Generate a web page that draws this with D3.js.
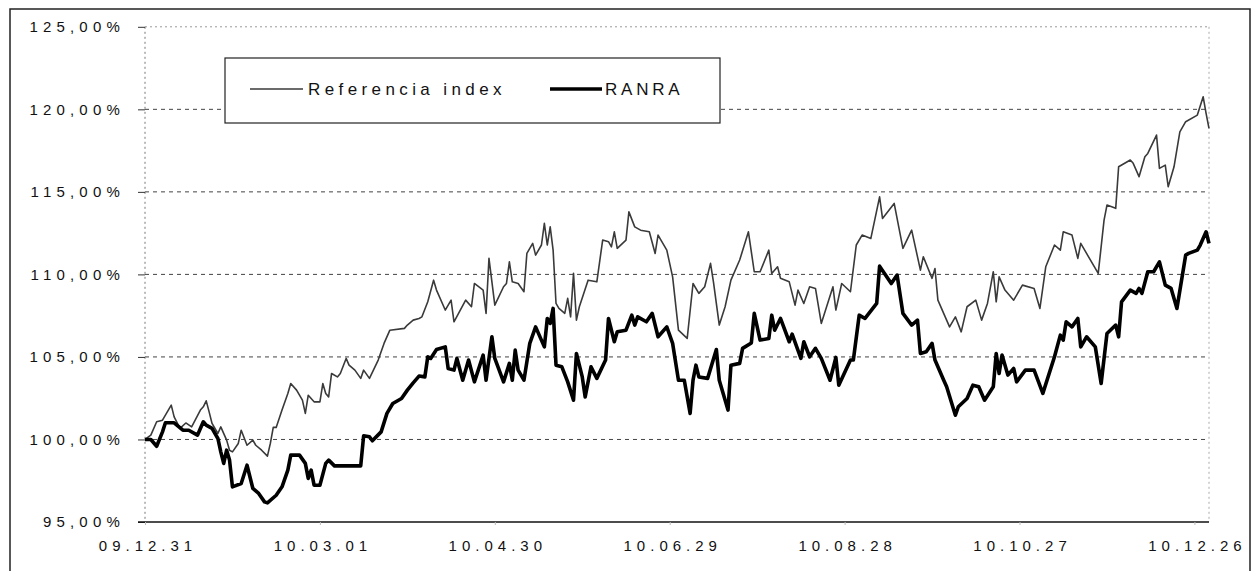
<!DOCTYPE html>
<html>
<head>
<meta charset="utf-8">
<script src="https://cdn.jsdelivr.net/npm/d3@7"></script>
<style>
  html, body { margin: 0; padding: 0; background: #fff; }
  svg { display: block; }
  text { font-family: "Liberation Sans", Arial, sans-serif; fill: #111; }
</style>
</head>
<body>
<svg id="chart" width="1253" height="571"></svg>
<script>
// ---- data (day offsets from 2009-12-31, values in %) ----
const startDate = "2009-12-31";
const endDate = "2010-12-31";
const seriesNames = ["Referencia index", "RANRA"];
const yTicks = [95, 100, 105, 110, 115, 120, 125];
const xTickOffsets = [0, 60, 120, 180, 240, 300, 360];

const refDays = [0,2,4,6,9,10,12,14,16,19,20,21,22,23,25,26,28,29,30,32,33,35,37,38,40,42,43,44,45,47,49,50,52,54,55,56,58,60,61,62,63,64,66,67,69,70,72,74,75,77,80,82,84,89,90,92,94,95,97,99,100,103,105,106,110,112,113,116,117,118,120,123,124,125,126,128,130,131,133,134,136,137,138,139,140,141,142,144,145,146,147,148,149,152,155,157,159,160,161,162,165,166,168,170,173,175,176,179,181,183,186,188,190,192,194,195,197,199,201,204,207,209,211,214,215,217,218,221,223,224,226,228,230,232,236,237,239,242,244,246,249,252,253,257,260,263,266,267,270,271,272,276,278,280,282,285,287,289,291,292,293,295,298,301,305,307,309,312,314,315,318,320,321,323,327,329,330,333,334,338,339,341,343,344,347,348,350,351,353,355,357,361,363,364,365];
const refValues = [100.0,100.26,101.07,101.17,102.08,101.37,100.67,101.0,100.76,101.78,101.98,102.34,101.67,100.97,100.36,100.76,99.96,99.35,99.25,99.76,100.56,99.65,99.96,99.65,99.35,98.99,99.76,100.73,100.73,101.78,102.79,103.39,102.99,102.38,101.58,102.68,102.28,102.28,103.39,102.79,102.58,104.0,103.79,104.0,104.91,104.5,104.2,103.7,104.2,103.7,104.81,105.82,106.62,106.73,106.93,107.23,107.33,107.43,108.34,109.65,109.05,107.84,108.44,107.13,108.44,108.04,109.45,109.05,107.64,110.97,108.14,109.25,109.45,110.76,109.55,109.45,108.95,111.27,111.88,111.17,111.78,113.09,111.78,112.88,111.47,108.24,107.94,107.64,108.55,107.43,110.06,107.23,108.04,109.65,109.55,112.08,111.98,111.67,112.58,111.58,112.08,113.79,112.88,112.68,112.58,111.27,112.38,111.47,109.85,106.62,106.12,109.45,108.85,109.25,110.67,109.55,106.93,108.04,109.65,110.87,112.58,110.16,110.16,111.47,110.06,110.46,109.76,109.55,108.14,109.05,108.24,109.25,109.15,107.03,109.25,107.84,109.45,108.95,111.78,112.38,112.18,114.7,113.39,114.3,111.58,112.68,110.26,111.07,109.76,110.36,108.44,106.82,107.43,106.52,108.04,108.44,107.23,108.24,110.16,108.34,109.85,109.05,108.44,109.35,109.15,107.94,110.46,111.78,111.47,112.58,112.38,110.97,111.88,111.27,110.06,113.29,114.2,114.0,116.52,116.93,116.73,115.92,117.13,117.33,118.44,116.42,116.62,115.31,116.52,118.64,119.25,119.65,120.76,119.76,118.85];

const ranraDays = [0,2,4,6,7,10,13,15,18,20,21,23,25,26,27,28,29,30,33,35,37,39,41,42,45,47,49,50,53,55,56,57,58,60,62,63,65,74,75,77,78,81,83,85,88,90,92,94,96,97,98,100,103,104,106,107,109,111,113,116,117,119,120,123,125,126,127,128,130,132,134,137,138,139,140,141,143,145,147,148,150,151,153,155,158,159,161,162,165,167,168,169,172,174,176,179,181,183,185,187,188,189,190,193,196,197,200,201,204,205,208,209,211,214,215,216,218,221,222,225,226,228,230,232,235,237,238,242,243,245,247,251,252,256,258,260,263,265,266,268,270,271,274,275,278,279,282,284,286,288,291,292,293,294,296,298,299,302,305,308,312,314,315,316,318,320,321,323,326,328,330,333,334,335,338,340,341,342,344,346,348,350,352,354,357,358,361,362,364,365];
const ranraValues = [100.0,100.0,99.59,100.46,101.01,101.01,100.56,100.56,100.26,101.07,100.87,100.67,100.06,99.25,98.55,99.35,98.75,97.13,97.33,98.44,97.03,96.73,96.22,96.16,96.62,97.13,98.14,99.05,99.05,98.55,97.64,98.14,97.23,97.23,98.55,98.75,98.4,98.4,100.22,100.16,99.92,100.46,101.58,102.18,102.48,102.99,103.43,103.84,103.79,105.01,104.91,105.45,105.61,104.3,104.2,104.91,103.59,104.81,103.49,105.11,103.59,106.22,104.91,103.49,104.61,103.59,105.41,104.2,103.59,105.82,106.82,105.61,107.33,107.03,107.94,104.5,104.4,103.49,102.38,105.21,103.79,102.58,104.4,103.7,104.81,107.33,105.92,106.52,106.62,107.53,106.93,107.43,107.13,107.64,106.22,106.82,105.82,103.59,103.59,101.58,103.59,104.5,103.79,103.7,105.45,103.59,101.78,104.5,104.61,105.52,105.85,107.64,106.02,106.12,107.53,106.62,107.33,105.92,106.38,104.91,105.92,105.01,105.52,104.91,103.59,104.97,103.29,104.81,104.81,107.53,107.33,108.24,110.5,109.45,109.96,107.64,106.93,107.23,105.21,105.31,105.82,104.81,103.59,103.19,101.47,101.98,102.48,103.29,103.19,102.38,103.19,105.21,104.0,105.11,103.9,104.3,103.49,104.2,104.2,102.79,105.01,106.32,106.02,107.13,106.82,107.33,105.61,106.22,105.61,103.39,106.42,106.93,106.22,108.34,109.05,108.85,109.15,108.85,110.16,110.16,110.76,109.35,109.15,107.94,111.17,111.27,111.47,111.78,112.58,111.88];

// ---- chart ----
const svg = d3.select("#chart");
const parse = d3.timeParse("%Y-%m-%d");
const t0 = parse(startDate), t1 = parse(endDate);
const dayToDate = d => d3.timeDay.offset(t0, d);

const pLeft = 145, pRight = 1209, pTop = 26.8, pBottom = 522;
const x = d3.scaleTime().domain([t0, t1]).range([pLeft, pRight]);
const y = d3.scaleLinear().domain([95, 125]).range([pBottom, pTop]);

// outer frame
svg.append("rect").attr("x", 10).attr("y", 9).attr("width", 1240).attr("height", 570)
  .attr("fill", "none").attr("stroke", "#222").attr("stroke-width", 1.5);

// gridlines
svg.append("g").selectAll("line").data(yTicks.filter(v => v > 95)).join("line")
  .attr("x1", pLeft).attr("x2", pRight)
  .attr("y1", d => y(d)).attr("y2", d => y(d))
  .attr("stroke", d => d === 125 ? "#999" : "#444")
  .attr("stroke-width", 1)
  .attr("stroke-dasharray", d => d === 125 ? "2,3" : "4,4");

// left axis (dotted) + right edge dotted
svg.append("line").attr("x1", pLeft).attr("x2", pLeft).attr("y1", pTop).attr("y2", pBottom)
  .attr("stroke", "#777").attr("stroke-dasharray", "2,3");
svg.append("line").attr("x1", pRight).attr("x2", pRight).attr("y1", pTop).attr("y2", pBottom)
  .attr("stroke", "#aaa").attr("stroke-dasharray", "2,3");

// y axis
const yAxis = d3.axisLeft(y).tickValues(yTicks).tickSize(7).tickPadding(18)
  .tickFormat(v => d3.format(".2f")(v).replace(".", ",") + "%");
const gy = svg.append("g").attr("transform", `translate(${pLeft},0)`).call(yAxis);
gy.select(".domain").remove();
gy.selectAll(".tick line").attr("stroke", "#333");
gy.selectAll("text").attr("font-size", 15).attr("letter-spacing", "5.2px")
  .attr("fill", "#111").attr("dx", "5px");

// x axis
const xTickDates = xTickOffsets.map(dayToDate);
const xAxis = d3.axisBottom(x).tickValues(xTickDates).tickSize(3).tickPadding(15)
  .tickFormat(d3.timeFormat("%y.%m.%d"));
const gx = svg.append("g").attr("transform", `translate(0,${pBottom})`).call(xAxis);
gx.select(".domain").attr("stroke", "#111").attr("stroke-width", 1.5)
  .attr("d", `M${pLeft - 7},0H${pRight}`);
gx.selectAll(".tick line").attr("stroke", "#bbb");
gx.selectAll("text").attr("font-size", 15).attr("letter-spacing", "5px")
  .attr("fill", "#111").attr("dx", "2.5px");

// lines
const line = d3.line().x(d => x(dayToDate(d[0]))).y(d => y(d[1]));
const refData = refDays.map((d, i) => [d, refValues[i]]);
const ranraData = ranraDays.map((d, i) => [d, ranraValues[i]]);

svg.append("path").datum(refData).attr("d", line)
  .attr("fill", "none").attr("stroke", "#3a3a3a").attr("stroke-width", 1.6)
  .attr("stroke-linejoin", "round");
svg.append("path").datum(ranraData).attr("d", line)
  .attr("fill", "none").attr("stroke", "#000").attr("stroke-width", 3.6)
  .attr("stroke-linejoin", "round");

// legend
const lg = svg.append("g");
lg.append("rect").attr("x", 225).attr("y", 58).attr("width", 495).attr("height", 65)
  .attr("fill", "#fff").attr("stroke", "#222").attr("stroke-width", 1.2);
lg.append("line").attr("x1", 250).attr("x2", 303).attr("y1", 89).attr("y2", 89)
  .attr("stroke", "#3a3a3a").attr("stroke-width", 1.6);
lg.append("text").attr("x", 308).attr("y", 95).attr("font-size", 17)
  .attr("letter-spacing", "4.4px").text(seriesNames[0]);
lg.append("line").attr("x1", 550).attr("x2", 602).attr("y1", 89).attr("y2", 89)
  .attr("stroke", "#000").attr("stroke-width", 3.6);
lg.append("text").attr("x", 605).attr("y", 95).attr("font-size", 17)
  .attr("letter-spacing", "3.8px").text(seriesNames[1]);
</script>
</body>
</html>
